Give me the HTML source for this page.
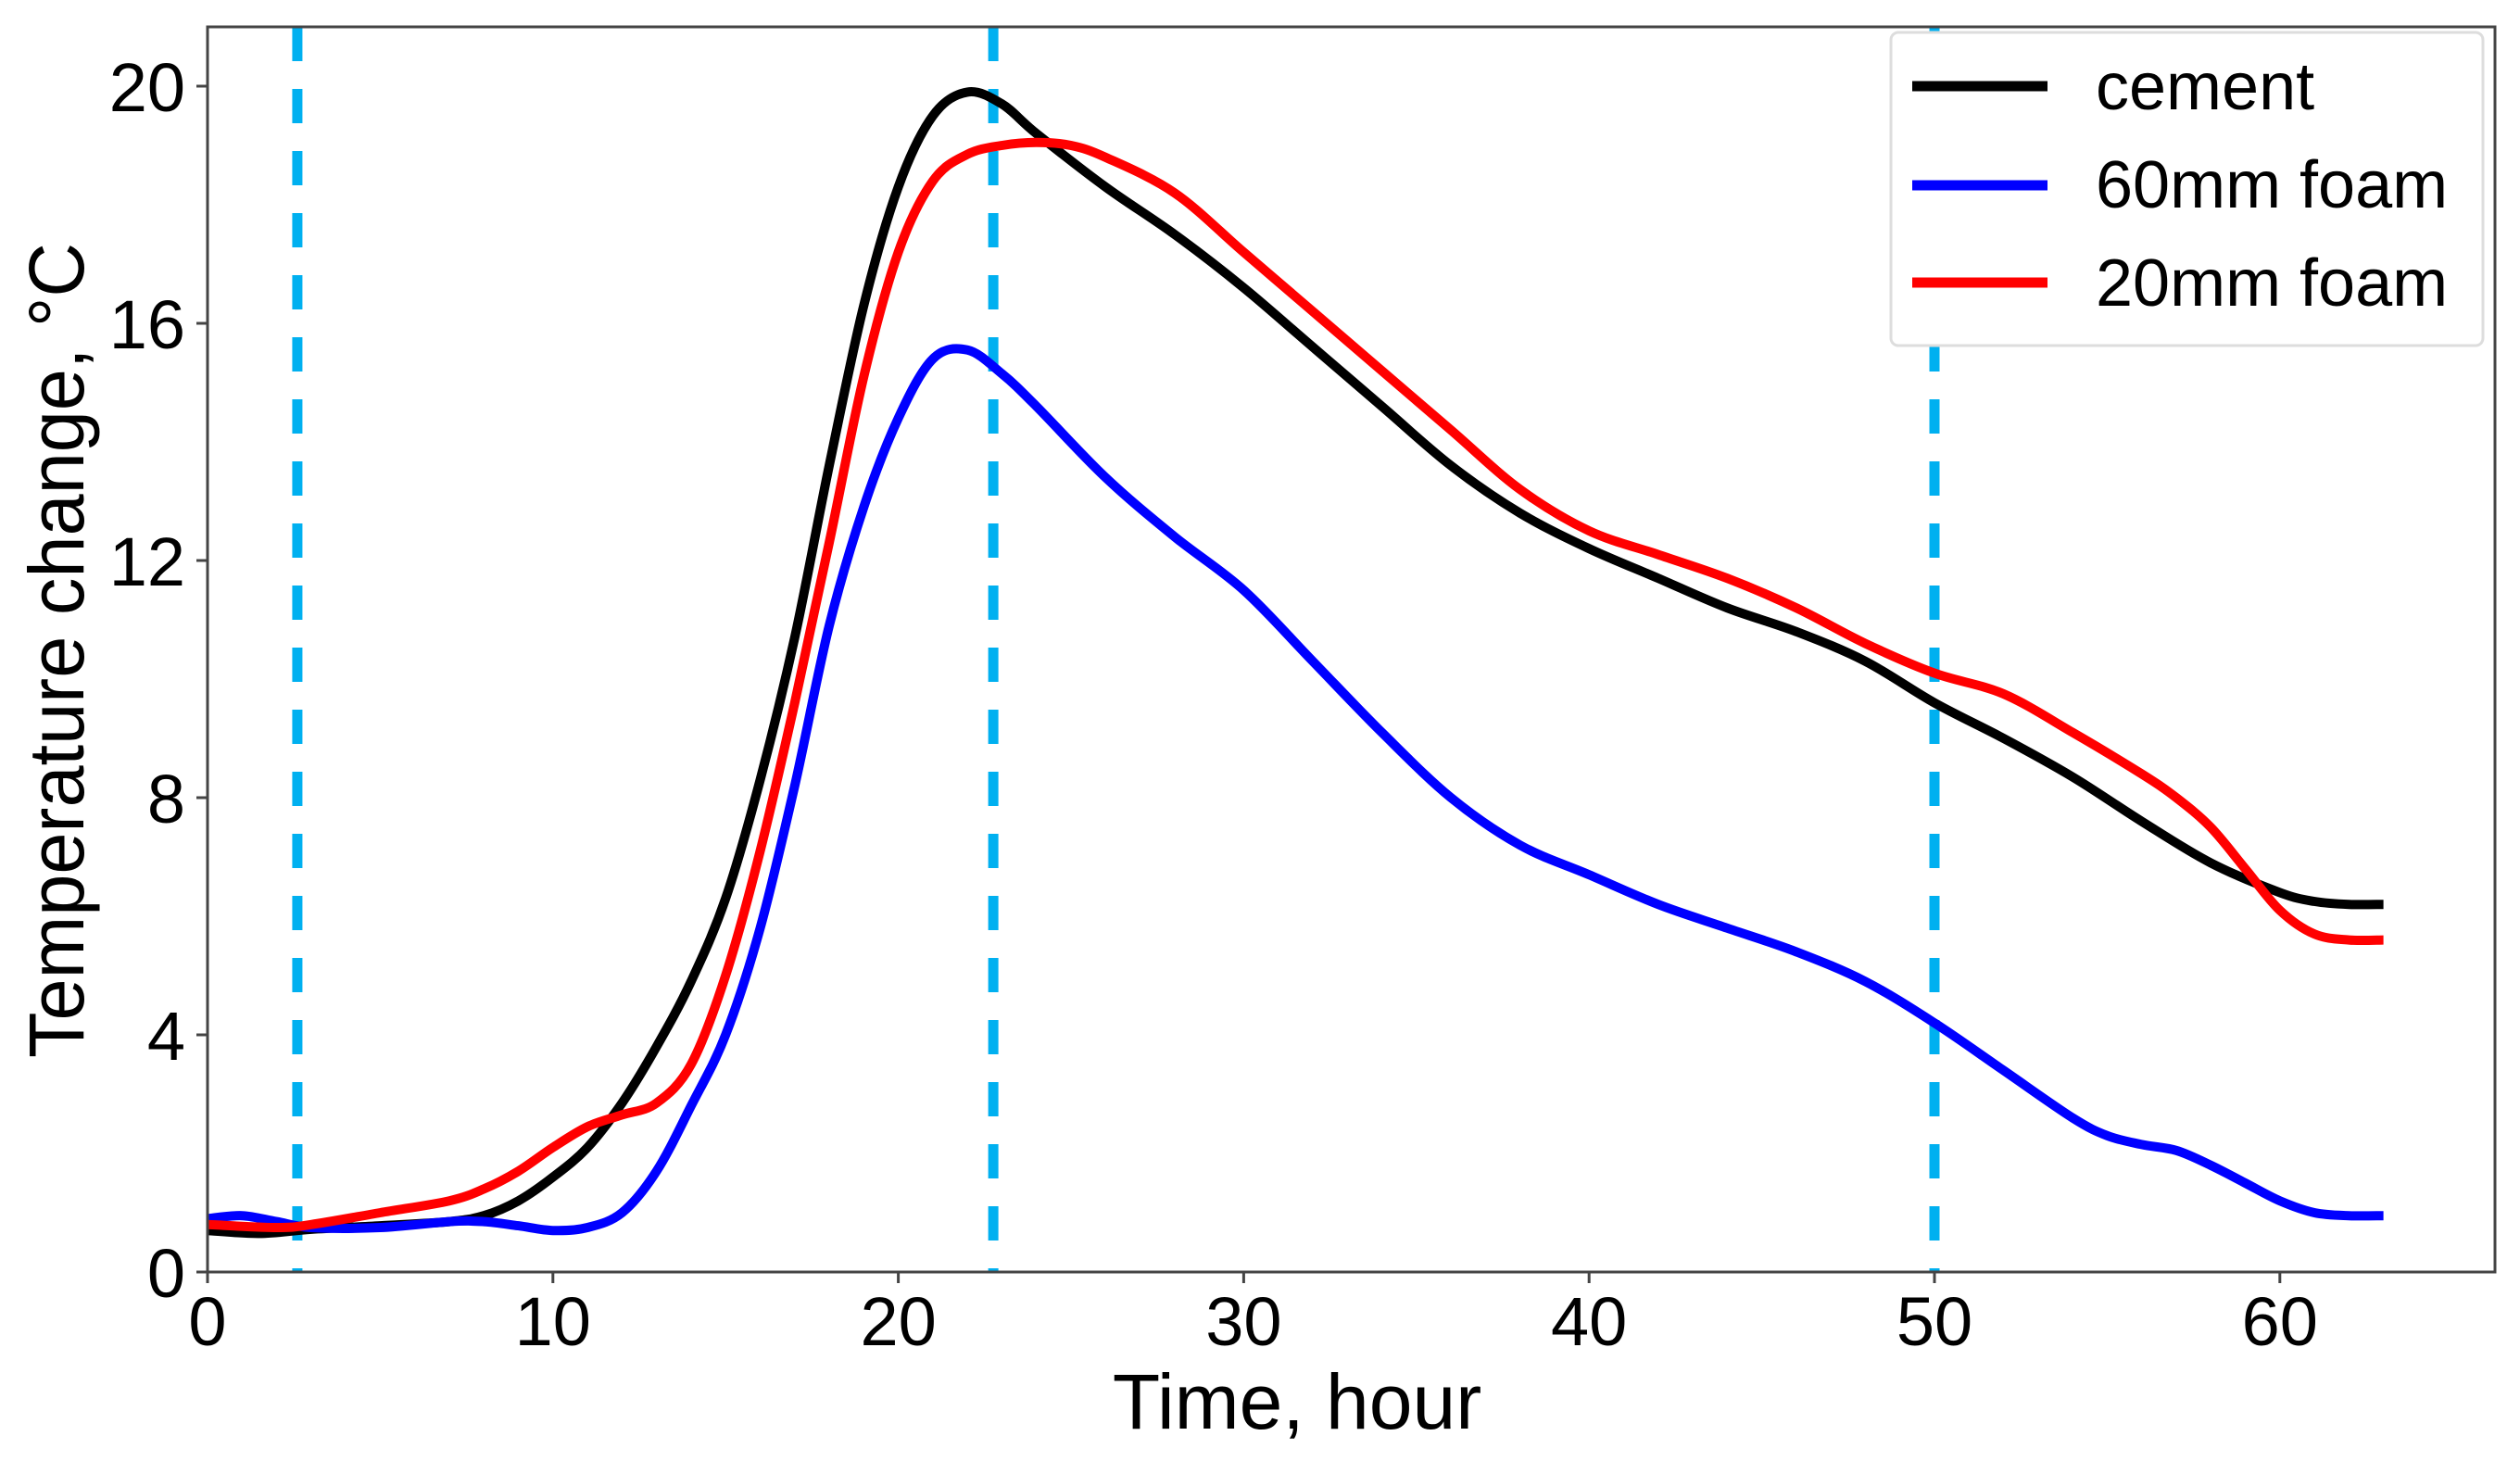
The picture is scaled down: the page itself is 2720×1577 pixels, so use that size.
<!DOCTYPE html>
<html><head><meta charset="utf-8"><style>
html,body{margin:0;padding:0;background:#fff;}
svg{display:block;font-family:"Liberation Sans",sans-serif;}
</style></head><body>
<svg id="chart" width="2720" height="1577" viewBox="0 0 2720 1577" xmlns="http://www.w3.org/2000/svg">
<rect width="2720" height="1577" fill="#fff"/>
<g id="plot"></g>
<g id="axes"></g>
<text x="1400" y="1542" font-size="84" text-anchor="middle" fill="#000">Time, hour</text>
<text transform="translate(90,702) rotate(-90)" font-size="84" text-anchor="middle" textLength="880" lengthAdjust="spacingAndGlyphs" fill="#000">Temperature change, °C</text>
<g>
<rect x="2041" y="35" width="639" height="338" rx="8" fill="#fff" stroke="#ddd" stroke-width="3"/>
<line x1="2064" y1="93" x2="2210" y2="93" stroke="#000" stroke-width="11"/>
<text x="2262" y="118" font-size="72">cement</text>
<line x1="2064" y1="200" x2="2210" y2="200" stroke="#0000ff" stroke-width="11"/>
<text x="2262" y="224" font-size="72">60mm foam</text>
<line x1="2064" y1="305" x2="2210" y2="305" stroke="#ff0000" stroke-width="11"/>
<text x="2262" y="330" font-size="72">20mm foam</text>
</g>
</svg>
<script>
const xTicks = [0,10,20,30,40,50,60];
const yTicks = [0,4,8,12,16,20];
const vlines = [2.6,22.75,50];
const cementX = [0,1.5,3,5,7,8,9,10,11,12,13,14,15,16,17,18,19,20,21,22,23,24,26,28,30,32,34,36,38,40,42,44,46,48,50,52,54,56,58,60,61,62,63];
const cementY = [0.7,0.65,0.72,0.78,0.85,0.95,1.2,1.6,2.1,2.85,3.8,4.9,6.3,8.3,10.7,13.6,16.3,18.3,19.5,19.9,19.7,19.2,18.3,17.5,16.6,15.6,14.6,13.6,12.8,12.2,11.7,11.2,10.8,10.3,9.6,9.0,8.35,7.6,6.9,6.4,6.25,6.2,6.2];
const redX = [0,2,3,5,7,8,9,10,11,12,13,14,15,16,17,18,19,20,21,22,23,24,25,26,28,30,32,34,36,38,40,42,44,46,48,50,52,54,56,57,58,59,60,61,62,63];
const redY = [0.8,0.75,0.8,1.0,1.2,1.4,1.7,2.1,2.45,2.65,2.85,3.5,5.0,7.1,9.6,12.3,15.1,17.2,18.4,18.85,19.0,19.05,19.0,18.8,18.2,17.2,16.2,15.2,14.2,13.2,12.5,12.1,11.7,11.2,10.6,10.1,9.75,9.1,8.4,8.0,7.5,6.8,6.1,5.7,5.6,5.6];
const blueX = [0,1,2,3,5,7,8,9,10,11,12,13,14,15,16,17,18,19,20,21,22,23,24,26,28,30,32,34,36,38,40,42,44,46,48,50,52,54,55,56,57,58,59,60,61,62,63];
const blueY = [0.9,0.95,0.85,0.75,0.75,0.85,0.85,0.78,0.7,0.75,1.0,1.7,2.8,4.0,5.8,8.2,10.9,12.9,14.4,15.4,15.55,15.15,14.6,13.4,12.4,11.5,10.3,9.1,8.0,7.2,6.7,6.2,5.8,5.4,4.9,4.2,3.4,2.6,2.3,2.15,2.05,1.8,1.5,1.2,1.0,0.95,0.95];

const NS='http://www.w3.org/2000/svg';
const L=224,R=2693,T=29,B=1373;
function sx(v){return 224+v*37.28;}
function sy(v){return 1373-v*64;}
const plot=document.getElementById('plot'), axes=document.getElementById('axes');
function mk(tag,attrs,parent){const e=document.createElementNS(NS,tag);for(const k in attrs)e.setAttribute(k,attrs[k]);parent.appendChild(e);return e;}
function smooth(xs,ys){
  const p=xs.map((x,i)=>[sx(x),sy(ys[i])]);
  let d='M'+p[0][0]+','+p[0][1];
  for(let i=0;i<p.length-1;i++){
    const p0=p[i-1]||p[i],p1=p[i],p2=p[i+1],p3=p[i+2]||p2;
    const c1=[p1[0]+(p2[0]-p0[0])/6,p1[1]+(p2[1]-p0[1])/6];
    const c2=[p2[0]-(p3[0]-p1[0])/6,p2[1]-(p3[1]-p1[1])/6];
    d+=' C'+c1[0].toFixed(1)+','+c1[1].toFixed(1)+' '+c2[0].toFixed(1)+','+c2[1].toFixed(1)+' '+p2[0].toFixed(1)+','+p2[1].toFixed(1);
  }
  return d;
}
vlines.forEach(v=>{
  const e=mk('line',{x1:sx(v),x2:sx(v),y1:T,y2:B,stroke:'#00b0f0','stroke-width':11,'stroke-dasharray':'37 30'},plot);
  
  
});
[[cementX,cementY,'#000','cement-line'],[blueX,blueY,'#0000ff','60mm-foam-line'],[redX,redY,'#ff0000','20mm-foam-line']].forEach(s=>{
  const e=mk('path',{d:smooth(s[0],s[1]),fill:'none',stroke:s[2],'stroke-width':10,'stroke-linejoin':'round'},plot);
  
  
});
const frame=mk('rect',{x:L,y:T,width:R-L,height:B-T,fill:'none',stroke:'#444','stroke-width':3},axes);


xTicks.forEach(v=>{
  mk('line',{x1:sx(v),x2:sx(v),y1:B,y2:B+12,stroke:'#444','stroke-width':3},axes);
  const t=mk('text',{x:sx(v),y:1452,'font-size':74,'text-anchor':'middle',fill:'#000'},axes);
  t.textContent=v;
  
  
});
yTicks.forEach(v=>{
  mk('line',{x1:L-12,x2:L,y1:sy(v),y2:sy(v),stroke:'#444','stroke-width':3},axes);
  const t=mk('text',{x:200,y:sy(v)+27,'font-size':74,'text-anchor':'end',fill:'#000'},axes);
  t.textContent=v;
  
  
});
</script>
</body></html>
